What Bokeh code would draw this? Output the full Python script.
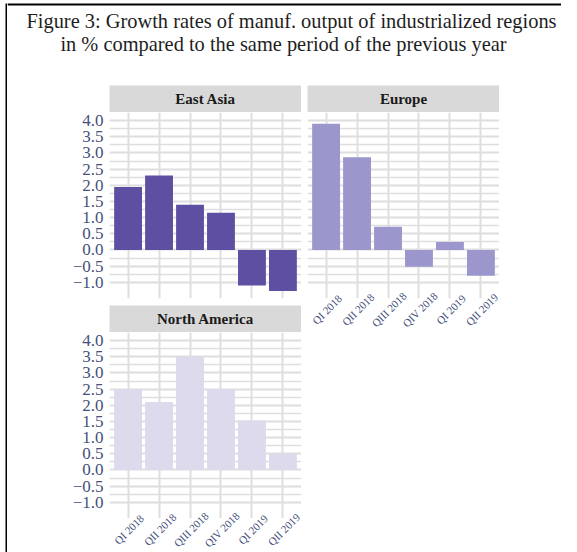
import math
from bokeh.plotting import figure
from bokeh.models import FactorRange, Range1d, FixedTicker, ColumnDataSource, Span
from bokeh.layouts import column, row
from bokeh.core.properties import value
from bokeh.embed import file_html
from bokeh.resources import INLINE

# ---------------- data ----------------
title_lines = ["Figure 3: Growth rates of manuf. output of industrialized regions",
               "in % compared to the same period of the previous year"]
quarters = ["QI 2018", "QII 2018", "QIII 2018", "QIV 2018", "QI 2019", "QII 2019"]
regions = ["East Asia", "Europe", "North America"]
east_asia = [1.95, 2.30, 1.40, 1.15, -1.10, -1.27]
europe = [3.90, 2.87, 0.72, -0.52, 0.25, -0.80]
north_america = [2.50, 2.10, 3.50, 2.50, 1.53, 0.50]
y_ticks = [-1.0, -0.5, 0.0, 0.5, 1.0, 1.5, 2.0, 2.5, 3.0, 3.5, 4.0]
y_tick_labels = ["\u22121.0", "\u22120.5", "0.0", "0.5", "1.0", "1.5",
                 "2.0", "2.5", "3.0", "3.5", "4.0"]

# ---------------- style ----------------
SERIF = "Liberation Serif"
LABEL_COLOR = "#45507a"
GRID = "#dedede"
STRIP = "#d9d9d9"
COLORS = {"East Asia": "#5e4fa2", "Europe": "#9b96cb", "North America": "#dcdaec"}
FRAME_W, FRAME_H, STRIP_H = 192, 186, 27
Y_MIN, Y_MAX = -1.5, 4.25
TOTAL_W, TOTAL_H = 561, 552
LEFT_PAD = 7          # white 5 px + black 2 px frame line
HEAD_H = 85           # top frame line + title block

minor_grid = [t + 0.25 for t in y_ticks] + [Y_MIN]


def base(**kw):
    for k in ("min_border_top", "min_border_right", "min_border_bottom", "min_border_left"):
        kw.setdefault(k, 0)
    return figure(output_backend="svg", toolbar_location=None,
                  border_fill_color="white", outline_line_color=None, **kw)


def blank(p):
    p.axis.visible = False
    p.grid.visible = False
    return p


def strip(name, left):
    s = blank(base(frame_width=FRAME_W, frame_height=STRIP_H, min_border_left=left,
                   x_range=Range1d(0, 1), y_range=Range1d(0, 1),
                   background_fill_color=STRIP))
    s.text(x=[0.5], y=[0.5], text=[name], text_align="center",
           text_baseline="middle", text_font=value(SERIF),
           text_font_style="bold", text_font_size="15px", text_color="#1a1a1a")
    return s


def panel(name, vals, left, bottom, show_y, show_x):
    p = base(frame_width=FRAME_W, frame_height=FRAME_H, min_border_left=left,
             min_border_bottom=bottom,
             x_range=FactorRange(factors=quarters, range_padding=0.2 / 6),
             y_range=Range1d(Y_MIN, Y_MAX), background_fill_color="white")
    src = ColumnDataSource(dict(q=quarters, v=vals))
    p.vbar(x="q", top="v", bottom=0, width=0.9, source=src,
           fill_color=COLORS[name], line_color=None)
    p.xgrid.grid_line_color = GRID
    p.xgrid.grid_line_width = 2
    p.ygrid.ticker = FixedTicker(ticks=y_ticks, minor_ticks=minor_grid)
    p.ygrid.grid_line_color = GRID
    p.ygrid.grid_line_width = 2
    p.ygrid.minor_grid_line_color = GRID
    p.ygrid.minor_grid_line_width = 1.5
    ya = p.yaxis[0]
    ya.ticker = FixedTicker(ticks=y_ticks)
    ya.major_label_overrides = {t: l for t, l in zip(y_ticks, y_tick_labels)}
    ya.axis_line_color = None
    ya.major_tick_line_color = None
    ya.minor_tick_line_color = None
    ya.major_tick_out = 0
    ya.major_tick_in = 0
    ya.major_label_text_font = SERIF
    ya.major_label_text_color = LABEL_COLOR
    ya.major_label_text_font_size = "17px"
    ya.major_label_standoff = 6
    ya.visible = show_y
    p.xaxis.visible = False
    if show_x:
        # rotated category labels centred under each category
        p.text(x="q", y=Y_MIN, text="q", source=src, angle=math.pi / 4,
               text_align="center", text_baseline="middle", x_offset=1, y_offset=11,
               text_font=value(SERIF), text_font_size="11px",
               text_color=LABEL_COLOR, level="overlay")
    return p


# left frame line
left_bar = blank(base(frame_width=2, frame_height=TOTAL_H - 3, min_border_left=5,
                      min_border_top=3, x_range=Range1d(0, 1), y_range=Range1d(0, 1),
                      background_fill_color="black"))

# title block (with the top frame line)
TW = TOTAL_W - LEFT_PAD
title_fig = blank(base(frame_width=TW, frame_height=HEAD_H, x_range=Range1d(0, TW),
                       y_range=Range1d(HEAD_H, 0), background_fill_color="white"))
title_fig.add_layout(Span(location=4, dimension="width", line_color="black", line_width=2))
title_fig.text(x=[291 - LEFT_PAD, 283 - LEFT_PAD], y=[20, 43],
               text=title_lines, text_align="center", text_baseline="middle",
               text_font=value(SERIF), text_font_size="20.4px", text_color="#1e1e1e")

PANEL_LEFT = 109 - LEFT_PAD
NA_BOTTOM = TOTAL_H - (HEAD_H + STRIP_H + FRAME_H + 7 + STRIP_H + FRAME_H)

ea_strip = strip(regions[0], PANEL_LEFT)
ea_panel = panel(regions[0], east_asia, PANEL_LEFT, 7, True, False)
na_strip = strip(regions[2], PANEL_LEFT)
na_panel = panel(regions[2], north_america, PANEL_LEFT, NA_BOTTOM, True, True)
eu_strip = strip(regions[1], 6)
eu_panel = panel(regions[1], europe, 6, 30, False, True)

left_col = column(ea_strip, ea_panel, na_strip, na_panel, spacing=0)
right_col = column(eu_strip, eu_panel, spacing=0)
main = column(title_fig, row(left_col, right_col, spacing=0), spacing=0)
root = row(left_bar, main, spacing=0)

open("out.html", "w").write(file_html(root, INLINE))
